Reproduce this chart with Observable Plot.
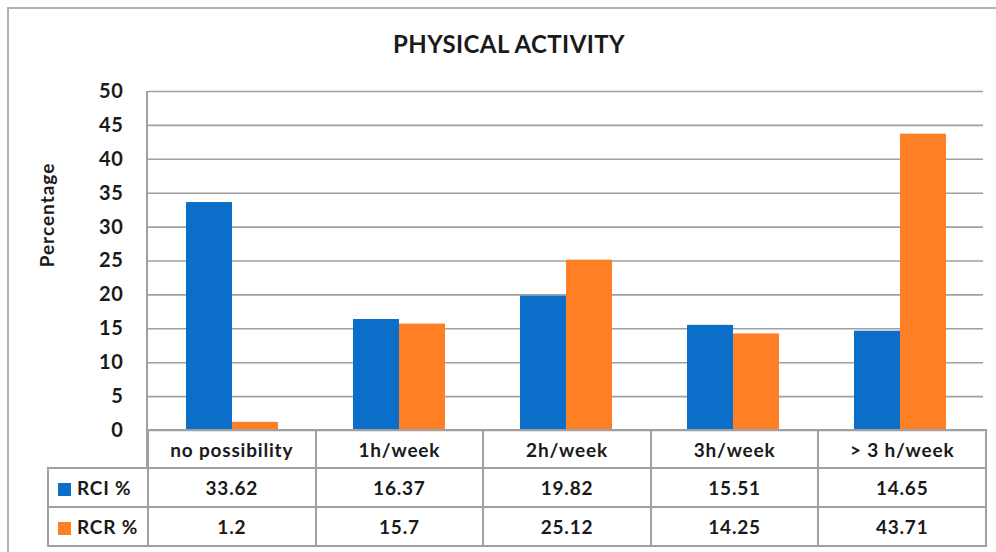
<!DOCTYPE html>
<html>
<head>
<meta charset="utf-8">
<script src="https://cdn.jsdelivr.net/npm/d3@7"></script>
<script src="https://cdn.jsdelivr.net/npm/@observablehq/plot@0.6"></script>
<style>
  html, body { margin: 0; padding: 0; background: #fff; }
  #wrap { position: relative; width: 996px; height: 552px; overflow: hidden; font-family: Lato, "Open Sans", sans-serif; color: #1a1a1a; }
  #frame { position: absolute; left: 7px; top: 7px; width: 1100px; height: 700px; border-left: 2px solid #b3b3b3; border-top: 2px solid #b3b3b3; }
  #title { position: absolute; left: 0; width: 1018px; top: 29px; text-align: center; font-weight: bold; font-size: 24px; letter-spacing: 0.4px; }
  #ylabel { position: absolute; left: 46px; top: 215px; transform: translate(-50%, -50%) rotate(-90deg); font-weight: bold; font-size: 19px; letter-spacing: 1px; white-space: nowrap; }
  #chart { position: absolute; left: 0; top: 0; }
  #axisline { position: absolute; left: 146px; top: 91px; width: 2px; height: 376px; background: #a0a0a0; }
  table { position: absolute; left: 47px; top: 429px; border-collapse: collapse; table-layout: fixed; width: 938px; font-weight: bold; font-size: 19px; letter-spacing: 0.8px; }
  td { border: 2px solid #a0a0a0; text-align: center; padding: 0; height: 36px; box-sizing: border-box; white-space: nowrap; }
  td.empty { border: none; }
  td.leg { text-align: left; padding-left: 9px; }
  .sw { display: inline-block; width: 13px; height: 13px; margin-right: 6px; vertical-align: -1px; }
</style>
</head>
<body>
<div id="wrap">
  <div id="frame"></div>
  <div id="title"></div>
  <div id="chart"></div>
  <div id="axisline"></div>
  <div id="ylabel"></div>
  <table id="tbl"></table>
</div>
<script>
const title = "PHYSICAL ACTIVITY";
const yLabel = "Percentage";
const categories = ["no possibility", "1h/week", "2h/week", "3h/week", "> 3 h/week"];
const series = ["RCI %", "RCR %"];
const rci = [33.62, 16.37, 19.82, 15.51, 14.65];
const rcr = [1.2, 15.7, 25.12, 14.25, 43.71];
const rciLabels = ["33.62", "16.37", "19.82", "15.51", "14.65"];
const rcrLabels = ["1.2", "15.7", "25.12", "14.25", "43.71"];
const yTicks = [0, 5, 10, 15, 20, 25, 30, 35, 40, 45, 50];
const colors = ["#0B6FC9", "#FF7F24"];

const data = categories.flatMap((c, i) => [
  {category: c, series: series[0], value: rci[i]},
  {category: c, series: series[1], value: rcr[i]}
]);

const chart = Plot.plot({
  width: 996,
  height: 552,
  marginLeft: 147,
  marginRight: 12,
  marginTop: 91,
  marginBottom: 122,
  facet: {data, x: "category"},
  fx: {domain: categories, padding: 0, axis: null},
  x: {domain: series, paddingInner: 0, paddingOuter: 0.78, axis: null},
  y: {domain: [0, 50], ticks: 10, tickSize: 0, tickPadding: 25, label: null},
  color: {domain: series, range: colors},
  style: {fontFamily: "Lato, 'Open Sans', sans-serif", fontSize: "20px", fontWeight: "bold", letterSpacing: "0.6px", color: "#1a1a1a", background: "transparent", overflow: "visible"},
  marks: [
    Plot.ruleY(yTicks, {stroke: "#a0a0a0", strokeWidth: 1.6, strokeOpacity: 1}),
    Plot.barY(data, {x: "series", y: "value", fill: "series"})
  ]
});
document.getElementById("chart").appendChild(chart);
document.getElementById("title").textContent = title;
document.getElementById("ylabel").textContent = yLabel;

const tbl = document.getElementById("tbl");
const cg = document.createElement("colgroup");
const c0 = document.createElement("col"); c0.style.width = "100px"; cg.appendChild(c0);
categories.forEach(() => { const c = document.createElement("col"); c.style.width = "167.6px"; cg.appendChild(c); });
tbl.appendChild(cg);
const hr = tbl.insertRow();
const e = hr.insertCell(); e.className = "empty";
categories.forEach(c => { const td = hr.insertCell(); td.textContent = c; });
hr.cells[1].style.height = "38px";
[[rciLabels, 0], [rcrLabels, 1]].forEach(([vals, k]) => {
  const r = tbl.insertRow();
  const l = r.insertCell(); l.className = "leg";
  const sw = document.createElement("span"); sw.className = "sw"; sw.style.background = colors[k];
  l.appendChild(sw); l.appendChild(document.createTextNode(series[k]));
  l.style.height = "39px";
  vals.forEach(v => { const td = r.insertCell(); td.textContent = v; });
});
</script>
</body>
</html>
